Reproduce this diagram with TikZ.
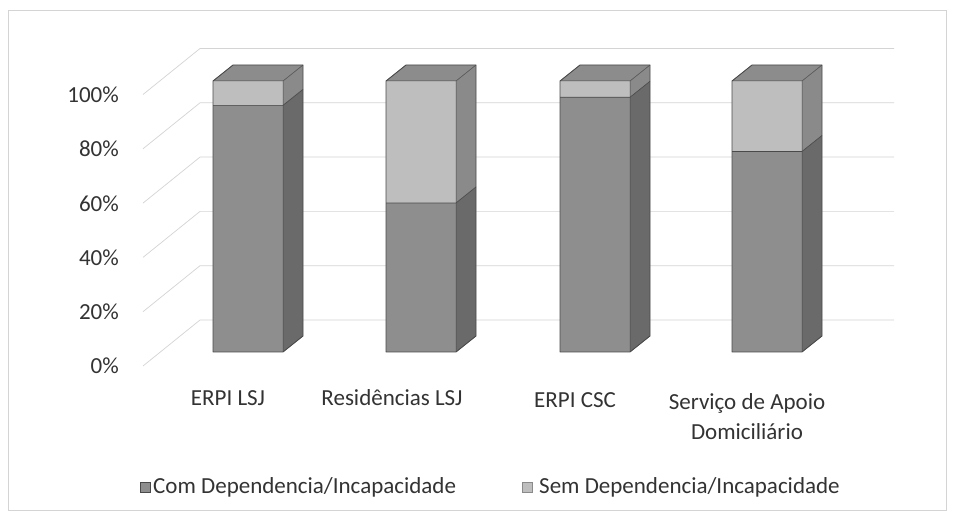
\documentclass[tikz,border=0pt]{standalone}
\usepackage{fontspec}
\setmainfont{Carlito}
\definecolor{comF}{HTML}{8E8E8E}
\definecolor{comS}{HTML}{6A6A6A}
\definecolor{semF}{HTML}{BEBEBE}
\definecolor{semS}{HTML}{8A8A8A}
\definecolor{topC}{HTML}{8C8C8C}
\definecolor{gridC}{HTML}{D4D4D4}
\definecolor{edgeC}{HTML}{4A4A4A}
\tikzset{
  gridline/.style={draw=gridC, line width=0.7pt},
  lbl/.style={font=\fontsize{23}{27}\selectfont, text=black!80, inner sep=0pt},
  edgeline/.style={draw=edgeC, line width=0.9pt, line join=round},
  legsq/.style={minimum size=10pt, inner sep=0pt, draw=edgeC, line width=0.5pt}
}
\newcommand{\mybar}[2]{%
  \pgfmathsetmacro{\xa}{#1}%
  \pgfmathsetmacro{\xb}{#1+70}%
  \pgfmathsetmacro{\ys}{352-2.71*#2}%
  \fill[comF] (\xa,352) rectangle (\xb,\ys);
  \fill[semF] (\xa,\ys) rectangle (\xb,81);
  \fill[comS] (\xb,352) -- (\xb+20,336) -- (\xb+20,\ys-16) -- (\xb,\ys) -- cycle;
  \fill[semS] (\xb,\ys) -- (\xb+20,\ys-16) -- (\xb+20,65) -- (\xb,81) -- cycle;
  \fill[topC] (\xa,81) -- (\xa+20,65) -- (\xb+20,65) -- (\xb,81) -- cycle;
  \draw[edgeline] (\xa,352) -- (\xb,352) -- (\xb+20,336) -- (\xb+20,65) -- (\xa+20,65) -- (\xa,81) -- cycle;
  \draw[edgeline, line width=0.5pt] (\xa,81) -- (\xb,81) -- (\xb+20,65) (\xb,81) -- (\xb,352);
  \draw[edgeline, line width=0.7pt] (\xa,\ys) -- (\xb,\ys) -- (\xb+20,\ys-16);
}
\begin{document}
\begin{tikzpicture}[x=1pt,y=-1pt]
\useasboundingbox (0,0) rectangle (954,521);
\fill[white] (0,0) rectangle (954,521);
% outer frame
\draw[draw=gridC, line width=0.6pt] (8,10) rectangle (946,510);
% gridlines: left wall diagonals and back wall
\foreach \p in {0,20,...,100}{
  \draw[gridline] (143,{366-2.715*\p}) -- (200,{320-2.715*\p}) -- (894,{320-2.715*\p});
}
% bars
\mybar{213}{91}
\mybar{386}{55}
\mybar{560}{94}
\mybar{732}{74}
% axis labels
\node[lbl, anchor=east] (y100) at (119,94.5) {100\%};
\node[lbl, anchor=east] (y80) at (119,149) {80\%};
\node[lbl, anchor=east] (y60) at (119,203.5) {60\%};
\node[lbl, anchor=east] (y40) at (119,258) {40\%};
\node[lbl, anchor=east] (y20) at (119,312) {20\%};
\node[lbl, anchor=east] (y0) at (119,366) {0\%};
% category labels
\node[lbl] (c1) at (228,398) {ERPI LSJ};
\node[lbl] (c2) at (392,398) {Residências LSJ};
\node[lbl] (c3) at (575,400) {ERPI CSC};
\node[lbl, align=center, font=\fontsize{23}{30}\selectfont] (c4) at (747,417) {Serviço de Apoio\\Domiciliário};
% legend
\node[legsq, fill=comF] (lg1) at (145,487) {};
\node[lbl, anchor=west] (lt1) at (153,487) {Com Dependencia/Incapacidade};
\node[legsq, fill=semF, draw=semS] (lg2) at (527,487) {};
\node[lbl, anchor=west] (lt2) at (539,487) {Sem Dependencia/Incapacidade};
\end{tikzpicture}
\end{document}
